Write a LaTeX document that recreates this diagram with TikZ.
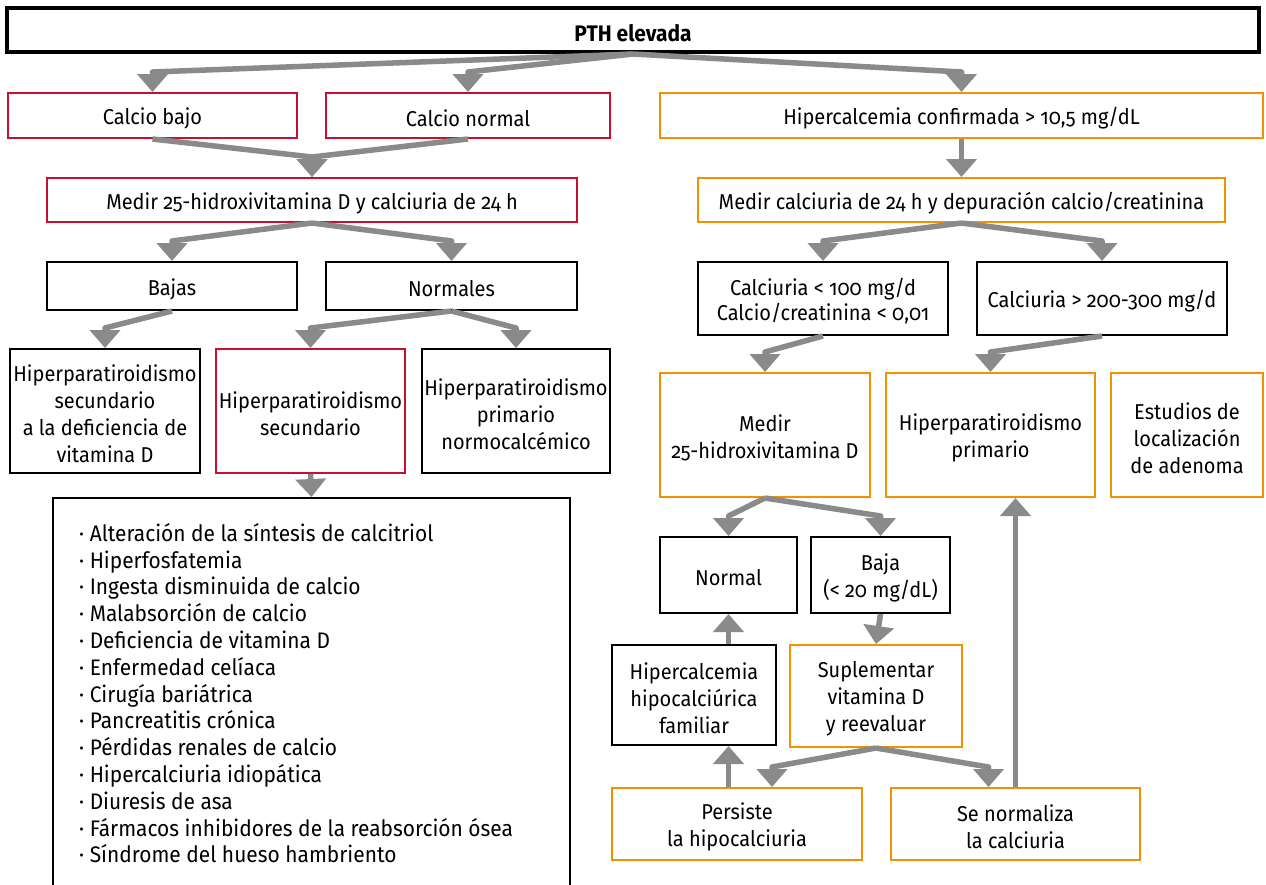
\documentclass[tikz,border=0pt]{standalone}
\usepackage{fontspec}
\setmainfont[Numbers=OldStyle,FakeStretch=0.93]{Fira Sans}
\usetikzlibrary{arrows.meta}
\definecolor{boxred}{HTML}{C8102E}
\definecolor{boxorange}{HTML}{F39200}
\definecolor{flowgray}{HTML}{8A8A8A}

% box from corner (x1,y1) to corner (x2,y2), its text set a little low
% #1 style, #2 x1, #3 y1, #4 x2, #5 y2, #6 name, #7 text
\newcommand\boxat[7]{%
  \node[#1, minimum width={#4-#2}, minimum height={#5-#3}] (#6)
    at ({(#2+#4)/2},{(#3+#5)/2}) {};
  \node[#1, draw=none, yshift=-3pt] (#6-text) at (#6.center) {#7};}

\begin{document}
\begin{tikzpicture}[x=1pt,y=-1pt,
  box/.style={draw, line width=2pt, inner sep=0pt, align=center,
    font=\fontsize{21.5}{27}\selectfont},
  redbox/.style={box, draw=boxred},
  orangebox/.style={box, draw=boxorange},
  blackbox/.style={box, draw=black},
  flow/.style={draw=flowgray, line width=5.5pt, line join=round,
    -{Triangle[width=30pt,length=18pt]}},
]
\clip (0,0) rectangle (1266,884);
\fill[white] (0,0) rectangle (1266,884);

% top
\boxat{blackbox, line width=4pt, font=\bfseries\fontsize{22.5}{26}\selectfont}{7}{8}{1259}{52}{pth}{PTH elevada}

% left branch
\boxat{redbox}{8}{93}{297}{138}{cb}{Calcio bajo}
\boxat{redbox}{326}{93}{610}{138}{cn}{Calcio normal}
\boxat{redbox}{47}{178}{577}{222}{m25}{Medir 25-hidroxivitamina D y calciuria de 24 h}
\boxat{blackbox}{47}{262}{297}{310}{bajas}{Bajas}
\boxat{blackbox}{326}{262}{577}{310}{norm}{Normales}
\boxat{blackbox}{10}{349}{200}{473}{hsd}{Hiperparatiroidismo\\secundario\\a la deficiencia de\\vitamina D}
\boxat{redbox}{216}{349}{405}{473}{hs}{Hiperparatiroidismo\\secundario}
\boxat{blackbox}{422}{349}{610}{473}{hpn}{Hiperparatiroidismo\\primario\\normocalcémico}
\node[draw, line width=2pt, minimum width=517, minimum height=422,
  inner sep=0pt] (causes) at (311.5,709) {};
\node[anchor=north west, inner sep=0pt, align=left,
  font=\fontsize{22.5}{26.8}\selectfont] (causetext) at (79,523) {%
  · Alteración de la síntesis de calcitriol\\
  · Hiperfosfatemia\\
  · Ingesta disminuida de calcio\\
  · Malabsorción de calcio\\
  · Deficiencia de vitamina D\\
  · Enfermedad celíaca\\
  · Cirugía bariátrica\\
  · Pancreatitis crónica\\
  · Pérdidas renales de calcio\\
  · Hipercalciuria idiopática\\
  · Diuresis de asa\\
  · Fármacos inhibidores de la reabsorción ósea\\
  · Síndrome del hueso hambriento};

% right branch
\boxat{orangebox}{660}{93}{1263}{138}{hc}{Hipercalcemia confirmada > 10,5 mg/dL}
\boxat{orangebox}{698}{178}{1225}{222}{mc}{Medir calciuria de 24 h y depuración calcio/creatinina}
\boxat{blackbox, font=\fontsize{21.5}{25}\selectfont}{698}{262}{948}{335}{clow}{Calciuria < 100 mg/d\\Calcio/creatinina < 0,01}
\boxat{blackbox}{977}{262}{1227}{335}{chigh}{Calciuria > 200-300 mg/d}
\boxat{orangebox}{660}{373}{870}{497}{mvd}{Medir\\25-hidroxivitamina D}
\boxat{orangebox}{886}{373}{1095}{497}{hpp}{Hiperparatiroidismo\\primario}
\boxat{orangebox}{1111}{373}{1263}{497}{loc}{Estudios de\\localización\\de adenoma}
\boxat{blackbox}{660}{537}{797}{613}{normal}{Normal}
\boxat{blackbox}{811}{537}{950}{613}{baja}{Baja\\(< 20 mg/dL)}
\boxat{blackbox}{612}{645}{776}{745}{hhf}{Hipercalcemia\\hipocalciúrica\\familiar}
\boxat{orangebox}{790}{645}{962}{747}{sup}{Suplementar\\vitamina D\\y reevaluar}
\boxat{orangebox}{612}{788}{862}{860}{pers}{Persiste\\la hipocalciuria}
\boxat{orangebox}{891}{788}{1140}{860}{senorm}{Se normaliza\\la calciuria}

\coordinate (persin) at ([xshift=35pt]pers.north);
\coordinate (senormin) at ([xshift=-27pt]senorm.north);

% connectors, left
\draw[flow] (pth.south) -- ([yshift=20pt]cb.north) -- (cb.north);
\draw[flow] (pth.south) -- ([yshift=20pt]cn.north) -- (cn.north);
\draw[flow] (pth.south) -- ([yshift=20pt]hc.north) -- (hc.north);
\draw[flow] (cb.south) -- ([yshift=20pt]m25.north) -- (m25.north);
\draw[flow] (cn.south) -- ([yshift=20pt]m25.north) -- (m25.north);
\draw[flow] (m25.south) -- ([yshift=20pt]bajas.north) -- (bajas.north);
\draw[flow] (m25.south) -- ([yshift=20pt]norm.north) -- (norm.north);
\draw[flow] (bajas.south) -- ([yshift=20pt]hsd.north) -- (hsd.north);
\draw[flow] (norm.south) -- ([yshift=20pt]hs.north) -- (hs.north);
\draw[flow] (norm.south) -- ([yshift=20pt]hpn.north) -- (hpn.north);
\draw[flow] (hs.south) -- (causes.north);

% connectors, right
\draw[flow] (hc.south) -- (mc.north);
\draw[flow] (mc.south) -- ([yshift=20pt]clow.north) -- (clow.north);
\draw[flow] (mc.south) -- ([yshift=20pt]chigh.north) -- (chigh.north);
\draw[flow] (clow.south) -- ([yshift=20pt]mvd.north) -- (mvd.north);
\draw[flow] (chigh.south) -- ([yshift=20pt]hpp.north) -- (hpp.north);
\draw[flow] (mvd.south) -- ([yshift=20pt]normal.north) -- (normal.north);
\draw[flow] (mvd.south) -- ([yshift=20pt]baja.north) -- (baja.north);
\draw[flow] (baja.south) -- (sup.north);
\draw[flow] (hhf.north -| normal.south) -- (normal.south);
\draw[flow] (pers.north -| normal.south) -- (hhf.south -| normal.south);
\draw[flow] (sup.south) -- ([yshift=20pt]persin) -- (persin);
\draw[flow] (sup.south) -- ([yshift=20pt]senormin) -- (senormin);
\draw[flow] (senorm.north) -- (senorm.north |- hpp.south);
\end{tikzpicture}
\end{document}
